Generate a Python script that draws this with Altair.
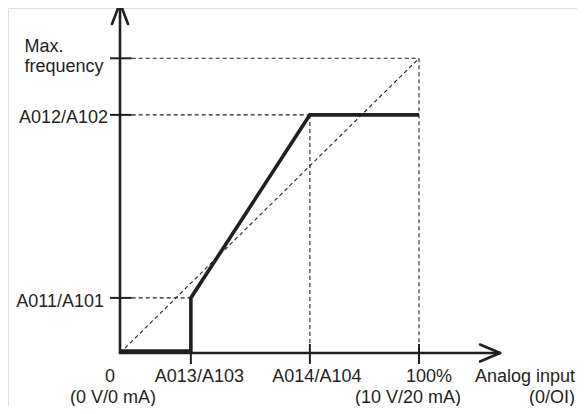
import altair as alt
import pandas as pd

# ---------------- data (x: % of analog input, y: % of max. frequency) ----------------
x_tick_values = [0, 23.7, 63.5, 100]
x_tick_labels = ["0", "A013/A103", "A014/A104", "100%"]
x_sub_labels = ["(0 V/0 mA)", "(10 V/20 mA)", "(0/OI)"]
y_tick_values = [18.7, 80.8, 100]
y_tick_labels = ["A011/A101", "A012/A102", "Max.", "frequency"]
x_axis_title = "Analog input"

curve_x = [0, 23.7, 23.7, 63.5, 100]
curve_y = [0.7, 0.7, 18.7, 80.8, 80.8]
ref_x = [0, 100]
ref_y = [0, 100]

# ---------------- geometry helpers ----------------
PXX = 2.99    # pixels per x unit
PXY = 2.947   # pixels per y unit
def ux(px):
    return px / PXX
def uy(px):
    return px / PXY

X_END = ux(380)      # x-axis arrow tip
Y_END = uy(350)      # y-axis arrow tip
INK = "#231f20"
FONT = "Liberation Sans"

x_scale = alt.Scale(domain=[-37.46, 152.84], nice=False, zero=False)
y_scale = alt.Scale(domain=[-17.98, 117.07], nice=False, zero=False)


def seg_chart(rows, **mark_kw):
    df = pd.DataFrame(rows, columns=["x", "y", "x2", "y2"])
    return alt.Chart(df).mark_rule(color=INK, clip=False, **mark_kw).encode(
        x=alt.X("x:Q", scale=x_scale, axis=None),
        y=alt.Y("y:Q", scale=y_scale, axis=None),
        x2="x2:Q",
        y2="y2:Q",
    )


# dashed guide lines
y_max, y_hi, y_lo = y_tick_values[2], y_tick_values[1], y_tick_values[0]
x_lo, x_mid, x_max = x_tick_values[1], x_tick_values[2], x_tick_values[3]
tick_r = ux(11.7)
tick_top = uy(9)
dashed_rows = [
    [tick_r, y_max, x_max, y_max],
    [tick_r, y_hi, x_mid, y_hi],
    [tick_r, y_lo, x_lo, y_lo],
    [x_mid, y_hi, x_mid, tick_top],
    [x_max, y_max, x_max, tick_top],
    [ref_x[0], ref_y[0], ref_x[1], ref_y[1]],
]
dashed = seg_chart(dashed_rows, strokeWidth=1.1, strokeDash=[4, 3])

# axes with arrows
axis_rows = [
    [0, 0, X_END, 0],
    [0, 0, 0, Y_END],
    [X_END, 0, X_END - ux(20), uy(8.5)],
    [X_END, 0, X_END - ux(20), -uy(8.5)],
    [0, Y_END, ux(-8), Y_END - uy(21)],
    [0, Y_END, ux(8), Y_END - uy(21)],
]
axes = seg_chart(axis_rows, strokeWidth=2.6, strokeCap="round")

# tick marks
tick_rows = [[v, uy(9), v, -uy(11)] for v in x_tick_values[1:]]
tick_rows += [[ux(-10), v, tick_r, v] for v in y_tick_values]
ticks = seg_chart(tick_rows, strokeWidth=2)

# bold characteristic curve
curve_df = pd.DataFrame({"x": curve_x, "y": curve_y, "o": list(range(len(curve_x)))})
curve = alt.Chart(curve_df).mark_line(
    color=INK, strokeWidth=3.6, strokeJoin="miter", clip=False
).encode(
    x=alt.X("x:Q", scale=x_scale, axis=None),
    y=alt.Y("y:Q", scale=y_scale, axis=None),
    order="o:Q",
)

# labels
row1 = -uy(29)
row2 = -uy(49.5)
texts = [
    # y-axis labels
    (ux(-95.5), y_max + uy(6.6), y_tick_labels[2], "left"),
    (ux(-95.5), y_max - uy(13.7), y_tick_labels[3], "left"),
    (ux(-12), y_hi - uy(8.3), y_tick_labels[1], "right"),
    (ux(-16), y_lo - uy(9.3), y_tick_labels[0], "right"),
    # x-axis labels
    (x_tick_values[0] + ux(-10), row1, x_tick_labels[0], "center"),
    (x_tick_values[1] + ux(8.5), row1, x_tick_labels[1], "center"),
    (x_tick_values[2] + ux(7), row1, x_tick_labels[2], "center"),
    (x_tick_values[3] + ux(10), row1, x_tick_labels[3], "center"),
    (X_END + ux(75), row1, x_axis_title, "right"),
    (x_tick_values[0] + ux(-7), row2, x_sub_labels[0], "center"),
    (x_tick_values[3] + ux(-11), row2, x_sub_labels[1], "center"),
    (X_END + ux(75), row2, x_sub_labels[2], "right"),
]
text_df = pd.DataFrame(texts, columns=["x", "y", "t", "a"])
text_layers = []
for a in ["left", "center", "right"]:
    text_layers.append(
        alt.Chart(text_df[text_df["a"] == a]).mark_text(
            align=a, baseline="alphabetic", font=FONT, fontSize=18, color=INK, clip=False
        ).encode(
            x=alt.X("x:Q", scale=x_scale, axis=None),
            y=alt.Y("y:Q", scale=y_scale, axis=None),
            text="t:N",
        )
    )

chart = alt.layer(dashed, axes, ticks, curve, *text_layers).properties(
    width=569,
    height=398,
    autosize=alt.AutoSizeParams(type="none"),
    padding=0,
).configure_view(stroke=None).configure(background="white")

chart.save("out.html", embed_options={"renderer": "svg", "actions": False})
